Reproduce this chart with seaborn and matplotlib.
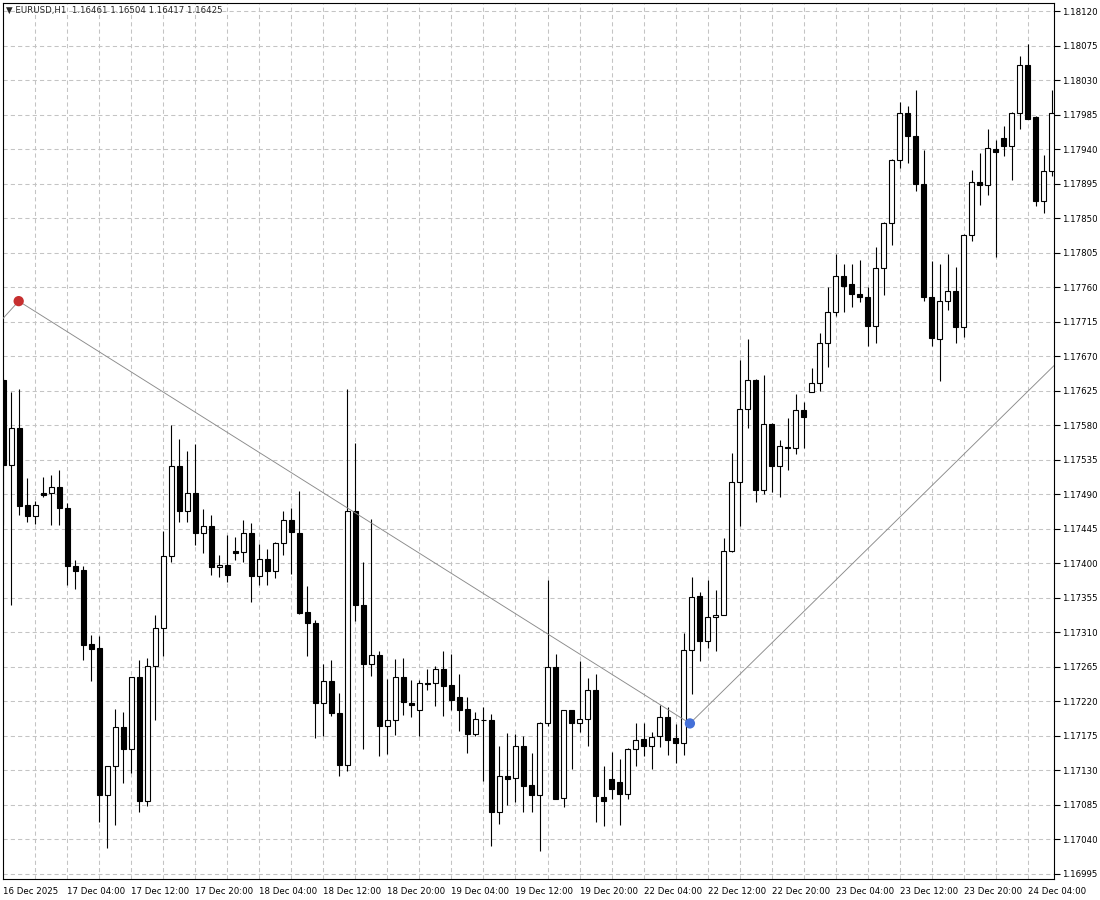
import numpy as np
import pandas as pd
import matplotlib
matplotlib.use("Agg")
import matplotlib.pyplot as plt
import seaborn as sns

# EURUSD H1, velas (16 Dec 20:00 -> 24 Dec 07:00)
opens = [1.17639, 1.17528, 1.17576, 1.17476, 1.17462, 1.17491, 1.17491, 1.17500, 1.17472, 1.17397,
         1.17391, 1.17294, 1.17289, 1.17097, 1.17136, 1.17186, 1.17157, 1.17251, 1.17090, 1.17266,
         1.17316, 1.17409, 1.17527, 1.17468, 1.17492, 1.17440, 1.17449, 1.17395, 1.17398, 1.17416,
         1.17415, 1.17439, 1.17383, 1.17406, 1.17390, 1.17427, 1.17457, 1.17440, 1.17336, 1.17322,
         1.17218, 1.17246, 1.17204, 1.17137, 1.17468, 1.17345, 1.17268, 1.17280, 1.17187, 1.17195,
         1.17251, 1.17218, 1.17208, 1.17244, 1.17244, 1.17262, 1.17241, 1.17225, 1.17210, 1.17177,
         1.17196, 1.17196, 1.17075, 1.17123, 1.17120, 1.17162, 1.17110, 1.17098, 1.17192, 1.17265,
         1.17094, 1.17208, 1.17192, 1.17197, 1.17235, 1.17095, 1.17119, 1.17114, 1.17099, 1.17157,
         1.17171, 1.17162, 1.17174, 1.17200, 1.17172, 1.17165, 1.17287, 1.17357, 1.17299, 1.17330,
         1.17333, 1.17416, 1.17506, 1.17601, 1.17639, 1.17495, 1.17582, 1.17527, 1.17552, 1.17550,
         1.17600, 1.17623, 1.17635, 1.17687, 1.17728, 1.17775, 1.17765, 1.17751, 1.17747, 1.17709,
         1.17785, 1.17844, 1.17926, 1.17988, 1.17957, 1.17895, 1.17747, 1.17692, 1.17742, 1.17755,
         1.17708, 1.17828, 1.17898, 1.17893, 1.17940, 1.17955, 1.17945, 1.17988, 1.18050, 1.17982,
         1.17872, 1.17912]
highs = [1.17642, 1.17624, 1.17628, 1.17511, 1.17481, 1.17512, 1.17515, 1.17522, 1.17478, 1.17404,
         1.17396, 1.17306, 1.17305, 1.17136, 1.17210, 1.17206, 1.17252, 1.17274, 1.17276, 1.17332,
         1.17442, 1.17580, 1.17562, 1.17547, 1.17555, 1.17471, 1.17463, 1.17411, 1.17437, 1.17434,
         1.17456, 1.17453, 1.17425, 1.17418, 1.17428, 1.17468, 1.17472, 1.17494, 1.17370, 1.17326,
         1.17268, 1.17274, 1.17231, 1.17628, 1.17557, 1.17401, 1.17458, 1.17286, 1.17249, 1.17275,
         1.17276, 1.17248, 1.17248, 1.17262, 1.17266, 1.17286, 1.17282, 1.17256, 1.17226, 1.17206,
         1.17213, 1.17203, 1.17162, 1.17178, 1.17177, 1.17175, 1.17152, 1.17193, 1.17378, 1.17282,
         1.17209, 1.17209, 1.17272, 1.17250, 1.17255, 1.17136, 1.17154, 1.17145, 1.17159, 1.17192,
         1.17191, 1.17180, 1.17215, 1.17212, 1.17190, 1.17309, 1.17382, 1.17363, 1.17378, 1.17365,
         1.17433, 1.17544, 1.17665, 1.17693, 1.17640, 1.17646, 1.17583, 1.17561, 1.17589, 1.17621,
         1.17610, 1.17655, 1.17700, 1.17760, 1.17804, 1.17791, 1.17791, 1.17796, 1.17761, 1.17812,
         1.17845, 1.17927, 1.18002, 1.17997, 1.18018, 1.17939, 1.17794, 1.17790, 1.17804, 1.17786,
         1.17830, 1.17913, 1.17935, 1.17967, 1.17952, 1.17971, 1.17989, 1.18062, 1.18078, 1.17984,
         1.17933, 1.18018]
lows = [1.17450, 1.17346, 1.17463, 1.17454, 1.17451, 1.17486, 1.17450, 1.17450, 1.17371, 1.17366,
        1.17274, 1.17247, 1.17063, 1.17029, 1.17058, 1.17113, 1.17126, 1.17076, 1.17083, 1.17196,
        1.17279, 1.17402, 1.17454, 1.17454, 1.17424, 1.17413, 1.17385, 1.17382, 1.17376, 1.17404,
        1.17402, 1.17350, 1.17371, 1.17372, 1.17381, 1.17411, 1.17386, 1.17334, 1.17279, 1.17172,
        1.17174, 1.17201, 1.17122, 1.17129, 1.17325, 1.17158, 1.17253, 1.17149, 1.17151, 1.17176,
        1.17202, 1.17199, 1.17175, 1.17235, 1.17214, 1.17201, 1.17209, 1.17181, 1.17153, 1.17175,
        1.17116, 1.17031, 1.17060, 1.17085, 1.17088, 1.17075, 1.17075, 1.17025, 1.17188, 1.17092,
        1.17082, 1.17132, 1.17180, 1.17162, 1.17062, 1.17057, 1.17092, 1.17058, 1.17092, 1.17135,
        1.17148, 1.17132, 1.17160, 1.17150, 1.17140, 1.17150, 1.17230, 1.17272, 1.17290, 1.17286,
        1.17332, 1.17415, 1.17449, 1.17576, 1.17480, 1.17490, 1.17493, 1.17487, 1.17522, 1.17542,
        1.17550, 1.17623, 1.17625, 1.17656, 1.17722, 1.17728, 1.17734, 1.17741, 1.17683, 1.17688,
        1.17750, 1.17815, 1.17916, 1.17922, 1.17886, 1.17742, 1.17683, 1.17638, 1.17731, 1.17688,
        1.17695, 1.17820, 1.17868, 1.17880, 1.17800, 1.17932, 1.17900, 1.17966, 1.17979, 1.17866,
        1.17857, 1.17905]
closes = [1.17528, 1.17576, 1.17475, 1.17462, 1.17476, 1.17489, 1.17500, 1.17472, 1.17397, 1.17390,
          1.17293, 1.17288, 1.17097, 1.17135, 1.17186, 1.17157, 1.17251, 1.17090, 1.17266, 1.17316,
          1.17409, 1.17527, 1.17468, 1.17492, 1.17440, 1.17449, 1.17395, 1.17398, 1.17385, 1.17414,
          1.17439, 1.17384, 1.17406, 1.17390, 1.17427, 1.17457, 1.17441, 1.17335, 1.17322, 1.17218,
          1.17246, 1.17204, 1.17137, 1.17468, 1.17345, 1.17268, 1.17280, 1.17187, 1.17195, 1.17251,
          1.17219, 1.17215, 1.17244, 1.17243, 1.17262, 1.17240, 1.17222, 1.17209, 1.17177, 1.17197,
          1.17196, 1.17075, 1.17123, 1.17119, 1.17162, 1.17109, 1.17098, 1.17192, 1.17265, 1.17093,
          1.17208, 1.17192, 1.17197, 1.17235, 1.17096, 1.17090, 1.17106, 1.17099, 1.17157, 1.17169,
          1.17162, 1.17173, 1.17200, 1.17170, 1.17165, 1.17287, 1.17356, 1.17299, 1.17330, 1.17333,
          1.17416, 1.17506, 1.17601, 1.17639, 1.17495, 1.17582, 1.17527, 1.17553, 1.17551, 1.17600,
          1.17591, 1.17635, 1.17687, 1.17728, 1.17775, 1.17762, 1.17751, 1.17747, 1.17709, 1.17785,
          1.17844, 1.17926, 1.17988, 1.17957, 1.17895, 1.17747, 1.17694, 1.17742, 1.17755, 1.17708,
          1.17828, 1.17898, 1.17893, 1.17942, 1.17936, 1.17945, 1.17988, 1.18050, 1.17980, 1.17872,
          1.17912, 1.17988]

time_labels = ["16 Dec 2025", "17 Dec 04:00", "17 Dec 12:00", "17 Dec 20:00", "18 Dec 04:00",
               "18 Dec 12:00", "18 Dec 20:00", "19 Dec 04:00", "19 Dec 12:00", "19 Dec 20:00",
               "22 Dec 04:00", "22 Dec 12:00", "22 Dec 20:00", "23 Dec 04:00", "23 Dec 12:00",
               "23 Dec 20:00", "24 Dec 04:00"]
price_levels = [1.16995, 1.17040, 1.17085, 1.17130, 1.17175, 1.17220, 1.17265, 1.17310, 1.17355,
                1.17400, 1.17445, 1.17490, 1.17535, 1.17580, 1.17625, 1.17670, 1.17715, 1.17760,
                1.17805, 1.17850, 1.17895, 1.17940, 1.17985, 1.18030, 1.18075, 1.18120]

# linea gris (puntos de giro) y marcadores
line_bar = [-2.0, 1.9, 85.8, 140.0]
line_price = [1.17697, 1.17742, 1.17191, 1.17747]
dot_bar = [1.9, 85.8]
dot_price = [1.17742, 1.17191]
dot_kind = ["high", "low"]

title = "\u25bc EURUSD,H1  1.16461 1.16504 1.16417 1.16425"

sns.set_style("white")
plt.rcParams["font.family"] = ["DejaVu Sans"]

df = pd.DataFrame({"o": opens, "h": highs, "l": lows, "c": closes})
df["x"] = np.arange(len(df))
up = df["c"] >= df["o"]
bottom = np.minimum(df["o"], df["c"])
height = (df["c"] - df["o"]).abs()

fig = plt.figure(figsize=(11, 9), dpi=100)
ax = fig.add_axes([3 / 1100, 21 / 900, 1051 / 1100, 876 / 900])

# mechas y cuerpos
ax.vlines(df["x"], df["l"], df["h"], color="black", lw=0.8, zorder=3)
ax.bar(df["x"][up], height[up], bottom=bottom[up], width=0.62,
       facecolor="white", edgecolor="black", lw=0.8, zorder=4)
ax.bar(df["x"][~up], height[~up], bottom=bottom[~up], width=0.62,
       facecolor="black", edgecolor="black", lw=0.8, zorder=4)

lines = pd.DataFrame({"bar": line_bar, "price": line_price})
sns.lineplot(data=lines, x="bar", y="price", color="#8a8a8a", lw=0.65,
             sort=False, ax=ax, zorder=5)
dots = pd.DataFrame({"bar": dot_bar, "price": dot_price, "kind": dot_kind})
sns.scatterplot(data=dots, x="bar", y="price", hue="kind",
                palette={"high": "#c62f2f", "low": "#4470d8"}, s=55,
                edgecolor="none", legend=False, ax=ax, zorder=6)

ax.set_xlim(-0.06, 131.31)
ax.set_ylim(1.16988, 1.18131)

# ejes al estilo MT4
ax.set_xticks(np.arange(0, 132, 8))
ax.set_xticklabels(time_labels, ha="left")
ax.set_xticks(np.arange(4, 132, 8), minor=True)
ax.set_yticks(price_levels)
ax.set_yticklabels([f"{p:.5f}" for p in price_levels])
ax.yaxis.tick_right()
ax.tick_params(axis="x", which="major", length=4, width=0.8, pad=2,
               labelsize=6.2, colors="black")
ax.tick_params(axis="x", which="minor", length=0)
ax.tick_params(axis="y", length=4, width=0.8, pad=1.5, labelsize=6.2, colors="black")
ax.set_xlabel("")
ax.set_ylabel("")

ax.grid(True, which="both", axis="x", color="#c4c4c4", lw=0.75, ls=(0, (4, 3)))
ax.grid(True, which="major", axis="y", color="#c4c4c4", lw=0.75, ls=(0, (4, 3)))
ax.set_axisbelow(True)
for sp in ax.spines.values():
    sp.set_visible(True)
    sp.set_color("black")
    sp.set_linewidth(0.8)

fig.text(6 / 1100, 1 - 10 / 900, title, fontsize=6.2, va="center", ha="left")

fig.savefig("out.png", dpi=100, facecolor="white")
